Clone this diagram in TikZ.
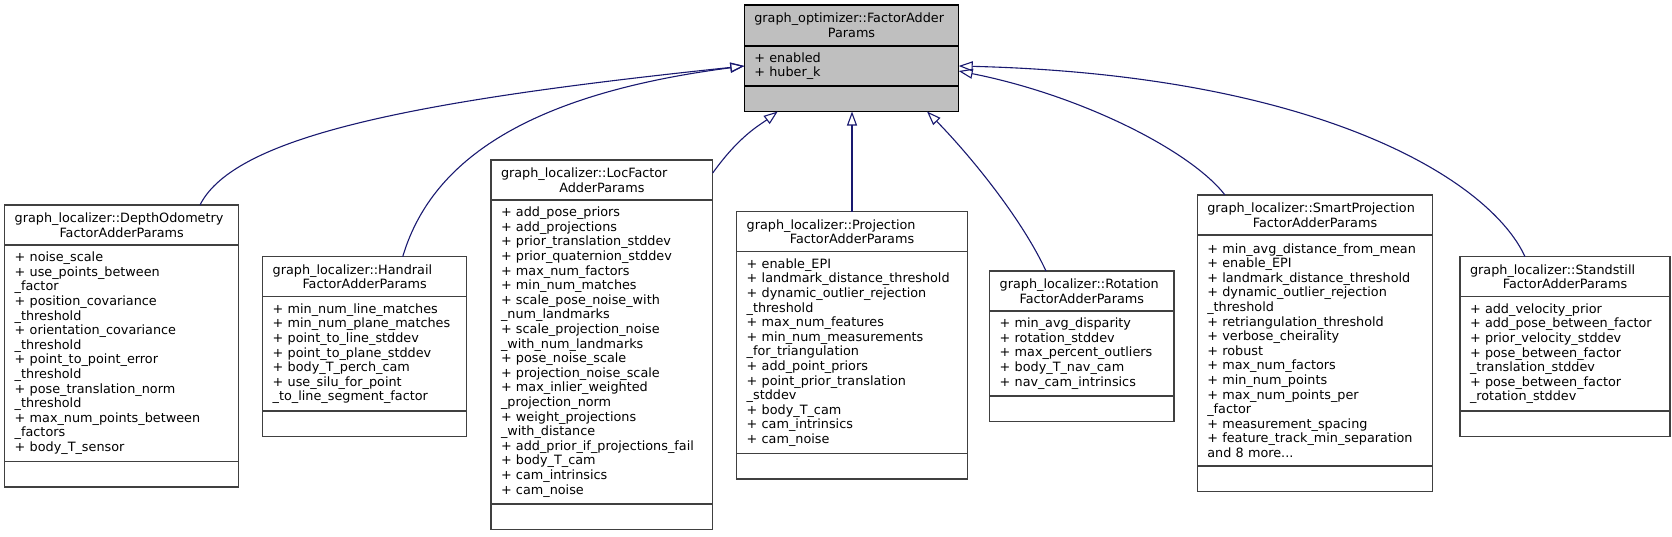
\documentclass[tikz,border=0pt]{standalone}
\usepackage{fontspec}
\setmainfont{DejaVu Sans}
\usetikzlibrary{arrows.meta,positioning}
\definecolor{edgeblue}{HTML}{191970}
\definecolor{boxgray}{HTML}{404040}
\definecolor{basefill}{HTML}{BFBFBF}

\begin{document}
\begin{tikzpicture}[x=1pt,y=-1pt,
    cls/.style={draw=boxgray,line width=1.3pt,outer sep=0pt,inner xsep=10pt,inner ysep=0pt,
      font=\fontsize{12.8}{14.6}\selectfont},
    head/.style={cls,anchor=north west,minimum height=40pt,align=center},
    attrs/.style={cls,minimum height=#1,align=left},
    foot/.style={cls,minimum height=25.5pt},
    inherit/.style={draw=edgeblue,line width=1.1pt,-{Triangle[open,length=14pt,width=10pt]}}]
    \useasboundingbox (0,0) rectangle (1672,536);

    % base class
    \node[head,fill=basefill,draw=black,text width=194.4pt,minimum height=41pt] (base) at (744.3,5)
        {\makebox[\linewidth][l]{graph\_optimizer::FactorAdder}\\Params};
    \node[attrs=40pt,fill=basefill,draw=black,text width=194.4pt,below=0pt of base] (base-attr)
        {+~enabled\\+~huber\_k};
    \node[foot,fill=basefill,draw=black,text width=194.4pt,below=0pt of base-attr] (base-foot) {};

    % derived classes
    \node[head,text width=214pt] (depth) at (4.7,205)
        {\makebox[\linewidth][l]{graph\_localizer::DepthOdometry}\\FactorAdderParams};
    \node[attrs=216.4pt,text width=214pt,below=0pt of depth] (depth-attr)
        {+~noise\_scale\\+~use\_points\_between\\\_factor\\+~position\_covariance\\\_threshold\\
         +~orientation\_covariance\\\_threshold\\+~point\_to\_point\_error\\\_threshold\\
         +~pose\_translation\_norm\\\_threshold\\+~max\_num\_points\_between\\\_factors\\
         +~body\_T\_sensor};
    \node[foot,text width=214pt,below=0pt of depth-attr] (depth-foot) {};

    \node[head,text width=184pt] (handrail) at (262.7,256.7)
        {\makebox[\linewidth][l]{graph\_localizer::Handrail}\\FactorAdderParams};
    \node[attrs=114.2pt,text width=184pt,below=0pt of handrail] (handrail-attr)
        {+~min\_num\_line\_matches\\+~min\_num\_plane\_matches\\+~point\_to\_line\_stddev\\
         +~point\_to\_plane\_stddev\\+~body\_T\_perch\_cam\\+~use\_silu\_for\_point\\
         \_to\_line\_segment\_factor};
    \node[foot,text width=184pt,below=0pt of handrail-attr] (handrail-foot) {};

    \node[head,text width=201.7pt] (loc) at (491,160)
        {\makebox[\linewidth][l]{graph\_localizer::LocFactor}\\AdderParams};
    \node[attrs=304pt,text width=201.7pt,below=0pt of loc] (loc-attr)
        {+~add\_pose\_priors\\+~add\_projections\\+~prior\_translation\_stddev\\
         +~prior\_quaternion\_stddev\\+~max\_num\_factors\\+~min\_num\_matches\\
         +~scale\_pose\_noise\_with\\\_num\_landmarks\\+~scale\_projection\_noise\\
         \_with\_num\_landmarks\\+~pose\_noise\_scale\\+~projection\_noise\_scale\\
         +~max\_inlier\_weighted\\\_projection\_norm\\+~weight\_projections\\\_with\_distance\\
         +~add\_prior\_if\_projections\_fail\\+~body\_T\_cam\\+~cam\_intrinsics\\+~cam\_noise};
    \node[foot,text width=201.7pt,below=0pt of loc-attr] (loc-foot) {};

    \node[head,text width=210.6pt] (proj) at (736.7,211.7)
        {\makebox[\linewidth][l]{graph\_localizer::Projection}\\FactorAdderParams};
    \node[attrs=201.8pt,text width=210.6pt,below=0pt of proj] (proj-attr)
        {+~enable\_EPI\\+~landmark\_distance\_threshold\\+~dynamic\_outlier\_rejection\\
         \_threshold\\+~max\_num\_features\\+~min\_num\_measurements\\\_for\_triangulation\\
         +~add\_point\_priors\\+~point\_prior\_translation\\\_stddev\\+~body\_T\_cam\\
         +~cam\_intrinsics\\+~cam\_noise};
    \node[foot,text width=210.6pt,below=0pt of proj-attr] (proj-foot) {};

    \node[head,text width=164.3pt] (rot) at (989.7,271)
        {\makebox[\linewidth][l]{graph\_localizer::Rotation}\\FactorAdderParams};
    \node[attrs=85pt,text width=164.3pt,below=0pt of rot] (rot-attr)
        {+~min\_avg\_disparity\\+~rotation\_stddev\\+~max\_percent\_outliers\\
         +~body\_T\_nav\_cam\\+~nav\_cam\_intrinsics};
    \node[foot,text width=164.3pt,below=0pt of rot-attr] (rot-foot) {};

    \node[head,text width=215.4pt] (smart) at (1197.3,195)
        {\makebox[\linewidth][l]{graph\_localizer::SmartProjection}\\FactorAdderParams};
    \node[attrs=231pt,text width=215.4pt,below=0pt of smart] (smart-attr)
        {+~min\_avg\_distance\_from\_mean\\+~enable\_EPI\\+~landmark\_distance\_threshold\\
         +~dynamic\_outlier\_rejection\\\_threshold\\+~retriangulation\_threshold\\
         +~verbose\_cheirality\\+~robust\\+~max\_num\_factors\\+~min\_num\_points\\
         +~max\_num\_points\_per\\\_factor\\+~measurement\_spacing\\
         +~feature\_track\_min\_separation\\and~8~more...};
    \node[foot,text width=215.4pt,below=0pt of smart-attr] (smart-foot) {};

    \node[head,text width=190pt] (still) at (1460,256.7)
        {\makebox[\linewidth][l]{graph\_localizer::Standstill}\\FactorAdderParams};
    \node[attrs=114.2pt,text width=190pt,below=0pt of still] (still-attr)
        {+~add\_velocity\_prior\\+~add\_pose\_between\_factor\\+~prior\_velocity\_stddev\\
         +~pose\_between\_factor\\\_translation\_stddev\\+~pose\_between\_factor\\
         \_rotation\_stddev};
    \node[foot,text width=190pt,below=0pt of still-attr] (still-foot) {};

    % inheritance
    \draw[inherit] ([xshift=195.3pt]depth.north west) .. controls (235,135) and (420,100) .. (base-attr.west);
    \draw[inherit] ([xshift=140pt]handrail.north west) .. controls (430,165) and (520,95) .. (base-attr.west);
    \draw[inherit] ([yshift=7pt]loc.east) .. controls (740,135) and (760,125) .. ([xshift=33.4pt]base-foot.south west);
    \draw[inherit] (proj.north) -- (proj.north |- base-foot.south);
    \draw[inherit] ([xshift=56.3pt]rot.north west) .. controls (1020,215) and (965,150) .. ([xshift=-31.7pt]base-foot.south east);
    \draw[inherit] ([xshift=27.7pt]smart.north west) .. controls (1190,150) and (1080,95) .. ([yshift=-5pt]base-attr.east);
    \draw[inherit] ([xshift=65pt]still.north west) .. controls (1490,180) and (1320,75) .. (base-attr.east);
\end{tikzpicture}
\end{document}
